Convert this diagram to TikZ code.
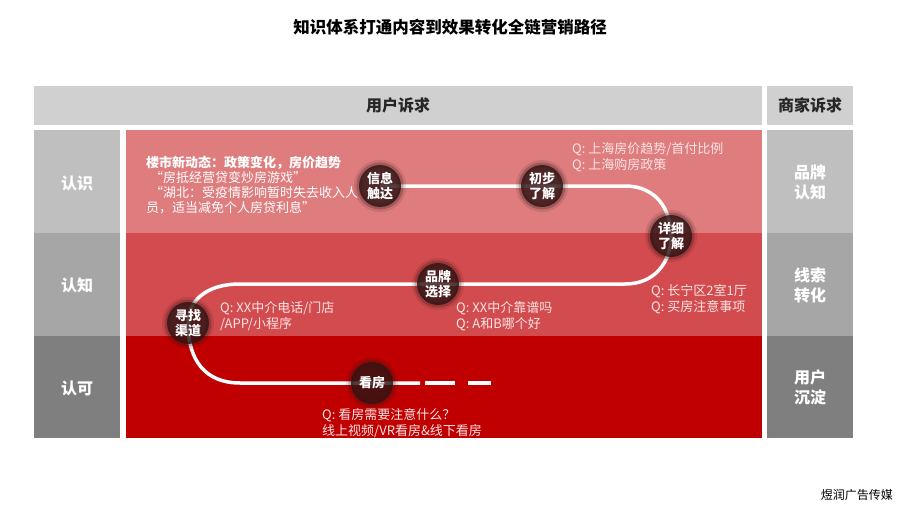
\documentclass[tikz,border=0pt]{standalone}
\usepackage{fontspec}
\setmainfont{Noto Sans CJK SC}
\definecolor{hdr}{RGB}{208,208,208}
\definecolor{gA}{RGB}{191,191,191}
\definecolor{gB}{RGB}{166,166,166}
\definecolor{gC}{RGB}{127,127,127}
\definecolor{rA}{RGB}{222,124,126}
\definecolor{rB}{RGB}{210,75,78}
\definecolor{rC}{RGB}{192,0,0}
\definecolor{circdark}{RGB}{48,20,20}
\definecolor{qcol}{RGB}{252,228,228}
\definecolor{hdrtext}{RGB}{38,38,38}
\tikzset{
  lbl/.style={font=\fontsize{16}{20}\selectfont\bfseries, text=white, align=center, inner sep=0pt},
  hlbl/.style={font=\fontsize{16}{20}\selectfont\bfseries, text=hdrtext, inner sep=0pt},
  qtxt/.style={font=\fontsize{13}{15.5}\selectfont, text=qcol, anchor=west, align=left, inner sep=0pt},
  stage/.style={circle, minimum size=42pt, inner sep=0pt, fill=circdark, fill opacity=0.82, text opacity=1,
    text=white, font=\fontsize{13}{15}\selectfont\bfseries, align=center,
    preaction={draw=circdark, draw opacity=0.12, line width=10pt},
    preaction={draw=circdark, draw opacity=0.25, line width=5pt}},
  pathline/.style={draw=white, line width=3.5pt}
}
\begin{document}
\begin{tikzpicture}[x=1pt,y=-1pt]
\useasboundingbox (0,0) rectangle (900,506);
\fill[white] (0,0) rectangle (900,506);
% title
\node[font=\fontsize{16.5}{20}\selectfont\bfseries, text=black, inner sep=0pt] (title) at (450,27) {知识体系打通内容到效果转化全链营销路径};
% header bars
\fill[hdr] (34,86) rectangle (762,125);
\fill[hdr] (767,86) rectangle (853,125);
\node[hlbl] (h1) at (398,105) {用户诉求};
\node[hlbl] (h2) at (810,105) {商家诉求};
% left column
\fill[gA] (34,130) rectangle (120,233);
\fill[gB] (34,233) rectangle (120,336);
\fill[gC] (34,336) rectangle (120,438);
\node[lbl] (l1) at (77,183) {认识};
\node[lbl] (l2) at (77,285) {认知};
\node[lbl] (l3) at (77,388) {认可};
% right column
\fill[gA] (767,130) rectangle (853,233);
\fill[gB] (767,233) rectangle (853,336);
\fill[gC] (767,336) rectangle (853,438);
\node[lbl] (r1) at (810,182) {品牌\\认知};
\node[lbl] (r2) at (810,285) {线索\\转化};
\node[lbl] (r3) at (810,387) {用户\\沉淀};
% red bands
\fill[rA] (126,130) rectangle (762,233);
\fill[rB] (126,233) rectangle (762,336);
\fill[rC] (126,336) rectangle (762,438);
% stage positions
\coordinate (p1) at (380,186);
\coordinate (p2) at (542,186);
\coordinate (p3) at (671,236);
\coordinate (p4) at (438,284);
\coordinate (p5) at (188,323);
\coordinate (p6) at (372,383);
\coordinate (c1) at (625,186);
\coordinate (c2) at (625,284);
\coordinate (c3) at (240,284);
\coordinate (c4) at (240,383);
\coordinate (c5) at (420,383);
\coordinate (d1) at (425,383);
\coordinate (d2) at (491,383);
% white path
\draw[pathline] (p1) -- (p2) -- (c1) .. controls (655,186) and (671,208) .. (p3)
  .. controls (671,262) and (655,284) .. (c2) -- (p4) -- (c3)
  .. controls (205,284) and (188,302) .. (p5)
  .. controls (188,360) and (205,383) .. (c4) -- (p6) -- (c5);
\draw[pathline, dash pattern=on 30pt off 13pt on 23pt off 100pt] (d1) -- (d2);
% stages
\node[stage] (s1) at (p1) {信息\\触达};
\node[stage] (s2) at (p2) {初步\\了解};
\node[stage] (s3) at (p3) {详细\\了解};
\node[stage] (s4) at (p4) {品牌\\选择};
\node[stage] (s5) at (p5) {寻找\\渠道};
\node[stage] (s6) at (p6) {看房};
% texts
\node[qtxt, text=white, font=\fontsize{13}{15}\selectfont] (t0) at (146,185) {{\bfseries 楼市新动态：政策变化，房价趋势}\\\hspace{4pt}“房抵经营贷变炒房游戏”\\\hspace{4pt}“湖北：受疫情影响暂时失去收入人\\员，适当减免个人房贷利息”};
\node[qtxt] (q1) at (572,157) {Q: 上海房价趋势/首付比例\\Q: 上海购房政策};
\node[qtxt] (q2) at (220,316) {Q: XX中介电话/门店\\/APP/小程序};
\node[qtxt] (q3) at (456,316) {Q: XX中介靠谱吗\\Q: A和B哪个好};
\node[qtxt] (q4) at (651,299) {Q: 长宁区2室1厅\\Q: 买房注意事项};
\node[qtxt] (q5) at (322,423) {Q: 看房需要注意什么？\\线上视频/VR看房\&线下看房};
% footer
\node[font=\fontsize{12}{14}\selectfont, text=black, anchor=east, inner sep=0pt] (foot) at (893,495) {煜润广告传媒};
\end{tikzpicture}
\end{document}
